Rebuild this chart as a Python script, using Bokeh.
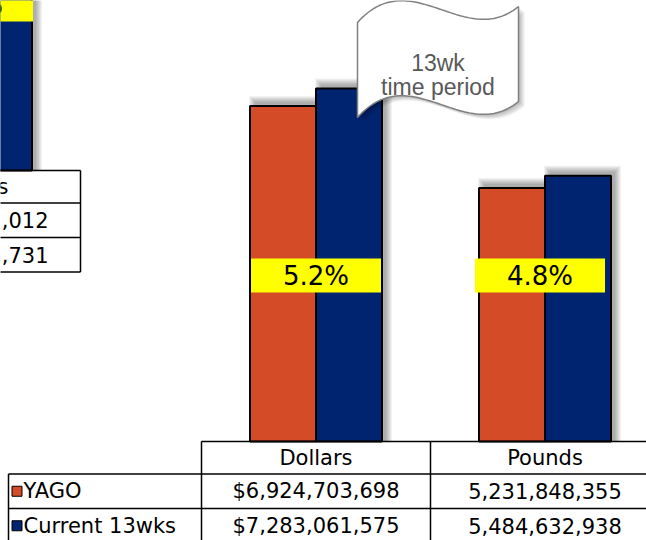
import numpy as np
from bokeh.plotting import figure
from bokeh.models import Range1d
from bokeh.core.properties import value
from bokeh.embed import file_html
from bokeh.resources import INLINE

# ---- data -------------------------------------------------------------
categories = ["Dollars", "Pounds"]
series = ["YAGO", "Current 13wks"]
yago = [6924703698, 5231848355]
current = [7283061575, 5484632938]
unit_prefix = ["$", ""]
callout_lines = ["13wk", "time period"]
# the neighbouring panel is cut by the left page edge; only these tails show
edge_panel_cells = ["s", ",012", ",731"]

# ---- style ------------------------------------------------------------
ORANGE = "#D34B27"
NAVY = "#00246F"
YELLOW = "#FFFF00"
TABLE_FONT = value("DejaVu Sans")
CALLOUT_FONT = value("Liberation Sans")

W, H = 646, 540
COL_W = 229.0      # px per category column
COL0 = 315.5       # px centre of the first category column
BASE = 441.0       # px of value zero (top edge of the data table)
VAL_TOP = 9.1e9    # value reached at the top edge of the canvas
BAR_PX = 66.0      # bar width in px
LABEL_Y = 275.0    # px centre of the change labels
LABEL_NUDGE = [0.0, -5.0]   # px horizontal nudge of each change label

p = figure(width=W, height=H, x_range=Range1d(0, W), y_range=Range1d(H, 0),
           x_axis_type=None, y_axis_type=None, output_backend="svg",
           toolbar_location=None, min_border=0)
p.outline_line_color = None
p.background_fill_color = "white"
p.border_fill_color = "white"

# category / value scales for the bars
p.extra_x_ranges = {"cat": Range1d(-COL0 / COL_W, (W - COL0) / COL_W)}
p.extra_y_ranges = {"val": Range1d(-VAL_TOP * (H - BASE) / BASE, VAL_TOP)}
ux = 1.0 / COL_W          # category units per px
uv = VAL_TOP / BASE       # value units per px

x = np.arange(len(categories), dtype=float)
bw = BAR_PX * ux
groups = [(x - bw / 2, np.array(yago, float), ORANGE),
          (x + bw / 2, np.array(current, float), NAVY)]

# soft drop shadows behind the bars (up and to the right)
for k in range(7):
    for xc, vals, _ in groups:
        p.quad(left=xc - bw / 2 + (5 - k) * ux, right=xc + bw / 2 + (4 + k) * ux,
               top=vals + (4 + k) * uv, bottom=0,
               fill_color="black", fill_alpha=0.05, line_color=None,
               x_range_name="cat", y_range_name="val")

for xc, vals, col in groups:
    p.vbar(x=xc, width=bw, top=vals, bottom=0, fill_color=col,
           line_color="black", line_width=2,
           x_range_name="cat", y_range_name="val")

# change labels on yellow boxes
pct = [f"{(c / y - 1) * 100:.1f}%" for y, c in zip(yago, current)]
lx = x + np.array(LABEL_NUDGE) * ux
p.rect(x=lx, y=[LABEL_Y] * len(x), width=130 * ux, height=34,
       fill_color=YELLOW, line_color=None, x_range_name="cat")
p.text(x=lx, y=[LABEL_Y] * len(x), text=pct, x_range_name="cat",
       text_align="center", text_baseline="middle", text_font=TABLE_FONT,
       text_font_size="26px", text_color="black")

# ---- wave-shaped callout ------------------------------------------------
def bezier(p0, p1, p2, p3, n=60):
    t = np.linspace(0, 1, n)[:, None]
    return ((1 - t) ** 3) * p0 + 3 * ((1 - t) ** 2) * t * p1 \
        + 3 * (1 - t) * t ** 2 * p2 + t ** 3 * p3

CL, CR = 357.0, 518.0
cw = CR - CL
DEPTH = 95.0          # vertical distance between the two wavy edges
top_edge = bezier(np.array([CL, 22.0]), np.array([CL + cw / 3, -38.0]),
                  np.array([CL + 2 * cw / 3, 50.0]), np.array([CR, 6.0]))
bot_edge = top_edge[::-1] + np.array([0.0, DEPTH])
wave = np.vstack([top_edge, bot_edge])
for k in range(1, 8):
    p.patch(wave[:, 0] + k * 0.9, wave[:, 1] + k * 0.7, fill_color="black",
            fill_alpha=0.045, line_color=None)
p.patch(wave[:, 0], wave[:, 1], fill_color="white", line_color="#808080",
        line_width=1.5)
p.text(x=[(CL + CR) / 2] * 2, y=[62, 86], text=callout_lines,
       text_align="center", text_baseline="middle", text_font=CALLOUT_FONT,
       text_font_size="23px", text_color="#595959")

# ---- data table under the bars ----------------------------------------
TL = COL0 - COL_W / 2          # left edge of first data column
LEG_L = 8.0                    # left edge of the legend column
rows = [BASE, 473.5, 508.0, 542.5]
right_end = W + 30
col_edges = [TL + COL_W * i for i in range(len(categories) + 1)]

hx = [[TL, right_end]] + [[LEG_L, right_end] for _ in rows[1:]]
hy = [[rows[0], rows[0]]] + [[r, r] for r in rows[1:]]
vx = [[c, c] for c in col_edges] + [[LEG_L, LEG_L]]
vy = [[rows[0], H + 10] for _ in col_edges] + [[rows[1], H + 10]]
p.multi_line(xs=hx + vx, ys=hy + vy, line_color="black", line_width=1.5)

row_mid = [(rows[i] + rows[i + 1]) / 2 for i in range(3)]
p.text(x=x, y=[row_mid[0]] * len(x), text=categories, x_range_name="cat",
       text_align="center", text_baseline="middle", text_font=TABLE_FONT,
       text_font_size="21px", text_color="black")
for r, vals in zip(row_mid[1:], (yago, current)):
    cells = [f"{pre}{v:,}" for pre, v in zip(unit_prefix, vals)]
    p.text(x=x, y=[r] * len(x), text=cells, x_range_name="cat",
           text_align="center", text_baseline="middle", text_font=TABLE_FONT,
           text_font_size="21px", text_color="black")

# legend keys inside the table
p.rect(x=[16.5, 16.5], y=row_mid[1:], width=10, height=10,
       fill_color=[ORANGE, NAVY], line_color="black", line_width=1)
p.text(x=[23, 23], y=row_mid[1:], text=series, text_align="left",
       text_baseline="middle", text_font=TABLE_FONT, text_font_size="21px",
       text_color="black")

# ---- neighbouring panel, cut by the left edge -------------------------
EDX, EDY = -579.0, -271.0
e_bar_right = COL0 + COL_W + BAR_PX + EDX
e_base = BASE + EDY
for k in range(7):
    p.quad(left=-60, right=e_bar_right + 4 + k, top=-20, bottom=e_base,
           fill_color="black", fill_alpha=0.05, line_color=None)
p.quad(left=-60, right=e_bar_right, top=-20, bottom=e_base,
       fill_color=NAVY, line_color="black", line_width=2)
p.quad(left=-120, right=e_bar_right + 1, top=LABEL_Y - 17 + EDY, bottom=LABEL_Y + 17 + EDY,
       fill_color=YELLOW, line_color=None)
p.text(x=[2.5], y=[LABEL_Y + EDY], text=["%"], text_align="right",
       text_baseline="middle", text_font=TABLE_FONT, text_font_size="26px",
       text_color="black")
e_rows = [r + EDY for r in rows]
e_right = COL0 + 1.5 * COL_W + EDX
p.multi_line(xs=[[-10, e_right]] * 4 + [[e_right, e_right]],
             ys=[[r, r] for r in e_rows] + [[e_rows[0], e_rows[-1]]],
             line_color="black", line_width=1.5)
e_mid = [(e_rows[i] + e_rows[i + 1]) / 2 for i in range(3)]
p.text(x=[8, 48, 48], y=e_mid, text=edge_panel_cells, text_align="right",
       text_baseline="middle", text_font=TABLE_FONT, text_font_size="21px",
       text_color="black")

open("out.html", "w").write(file_html(p, INLINE))
